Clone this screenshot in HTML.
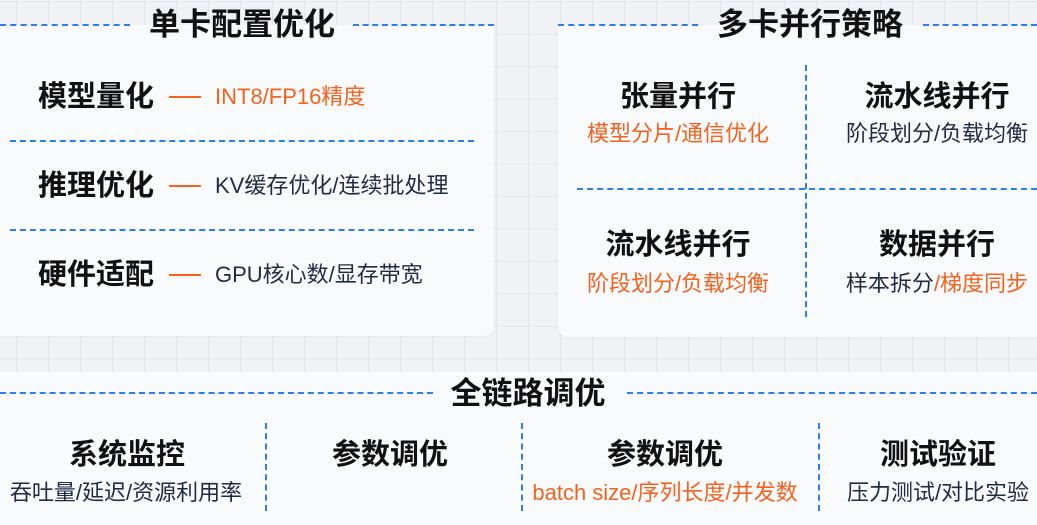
<!DOCTYPE html>
<html><head><meta charset="utf-8"><style>
*{margin:0;padding:0;box-sizing:border-box}
body{width:1037px;height:525px;overflow:hidden;position:relative;font-family:"Liberation Sans","Noto Sans CJK SC",sans-serif;
background-color:#f1f2f5;
background-image:linear-gradient(#e3e5e9 1px,transparent 1px),linear-gradient(90deg,#e3e5e9 1px,transparent 1px);
background-size:32px 32.5px;background-position:16px 1px;}
.card{position:absolute;background:#f9fafc;border-radius:0 0 10px 10px;box-shadow:0 1px 3px rgba(0,0,0,0.05)}
.dh{position:absolute;height:0;border-top:2px dashed #2a7ff0}
.dv{position:absolute;width:0;border-left:2px dashed #2a7ff0}
.t{position:absolute;font-weight:bold;color:#111;white-space:nowrap;line-height:1;font-size:29px}
.s{position:absolute;font-size:22px;line-height:1;color:#1f2a44;white-space:nowrap}
.o{color:#f4621e}
.c{transform:translateX(-50%);text-align:center}
.bar{position:absolute;width:32px;height:2px;background:#f4621e}
</style></head><body>
<div class="card" style="left:-10px;top:25px;width:504px;height:311px"></div>
<div class="card" style="left:558px;top:25px;width:490px;height:312px;border-radius:0 0 0 10px"></div>
<div style="position:absolute;left:0;top:372px;width:1037px;height:153px;background:#f9fafc"></div>

<div class="dh" style="left:0;top:24px;width:130px"></div>
<div class="dh" style="left:353px;top:24px;width:141px"></div>
<div class="t c" style="left:242px;top:9px;font-size:31px">单卡配置优化</div>

<div class="t" style="left:38px;top:83px">模型量化</div>
<div class="bar" style="left:169px;top:96px"></div>
<div class="s o" style="left:215px;top:86px">INT8/FP16精度</div>
<div class="dh" style="left:10px;top:140px;width:464px"></div>
<div class="t" style="left:38px;top:172px">推理优化</div>
<div class="bar" style="left:169px;top:185px"></div>
<div class="s" style="left:215px;top:175px">KV缓存优化/连续批处理</div>
<div class="dh" style="left:10px;top:229px;width:464px"></div>
<div class="t" style="left:38px;top:261px">硬件适配</div>
<div class="bar" style="left:169px;top:274px"></div>
<div class="s" style="left:215px;top:264px">GPU核心数/显存带宽</div>

<div class="dh" style="left:558px;top:24px;width:140px"></div>
<div class="dh" style="left:923px;top:24px;width:114px"></div>
<div class="t c" style="left:810px;top:9px;font-size:31px">多卡并行策略</div>
<div class="dv" style="left:805px;top:65px;height:252px"></div>
<div class="dh" style="left:577px;top:188px;width:460px"></div>
<div class="t c" style="left:678px;top:83px">张量并行</div>
<div class="s c o" style="left:678px;top:123px">模型分片/通信优化</div>
<div class="t c" style="left:937px;top:83px">流水线并行</div>
<div class="s c" style="left:937px;top:123px">阶段划分/负载均衡</div>
<div class="t c" style="left:678px;top:231px">流水线并行</div>
<div class="s c o" style="left:678px;top:273px">阶段划分/负载均衡</div>
<div class="t c" style="left:937px;top:231px">数据并行</div>
<div class="s c" style="left:937px;top:273px">样本拆分<span class="o">/梯度同步</span></div>

<div class="dh" style="left:0;top:392px;width:433px"></div>
<div class="dh" style="left:627px;top:392px;width:410px"></div>
<div class="t c" style="left:528px;top:378px;font-size:31px">全链路调优</div>
<div class="dv" style="left:265px;top:423px;height:88px"></div>
<div class="dv" style="left:521px;top:423px;height:88px"></div>
<div class="dv" style="left:818px;top:423px;height:88px"></div>
<div class="t c" style="left:127px;top:441px">系统监控</div>
<div class="s c" style="left:126px;top:482px">吞吐量/延迟/资源利用率</div>
<div class="t c" style="left:390px;top:441px">参数调优</div>
<div class="t c" style="left:665px;top:441px">参数调优</div>
<div class="s c o" style="left:665px;top:482px">batch size/序列长度/并发数</div>
<div class="t c" style="left:938px;top:441px">测试验证</div>
<div class="s c" style="left:938px;top:482px">压力测试/对比实验</div>
</body></html>
